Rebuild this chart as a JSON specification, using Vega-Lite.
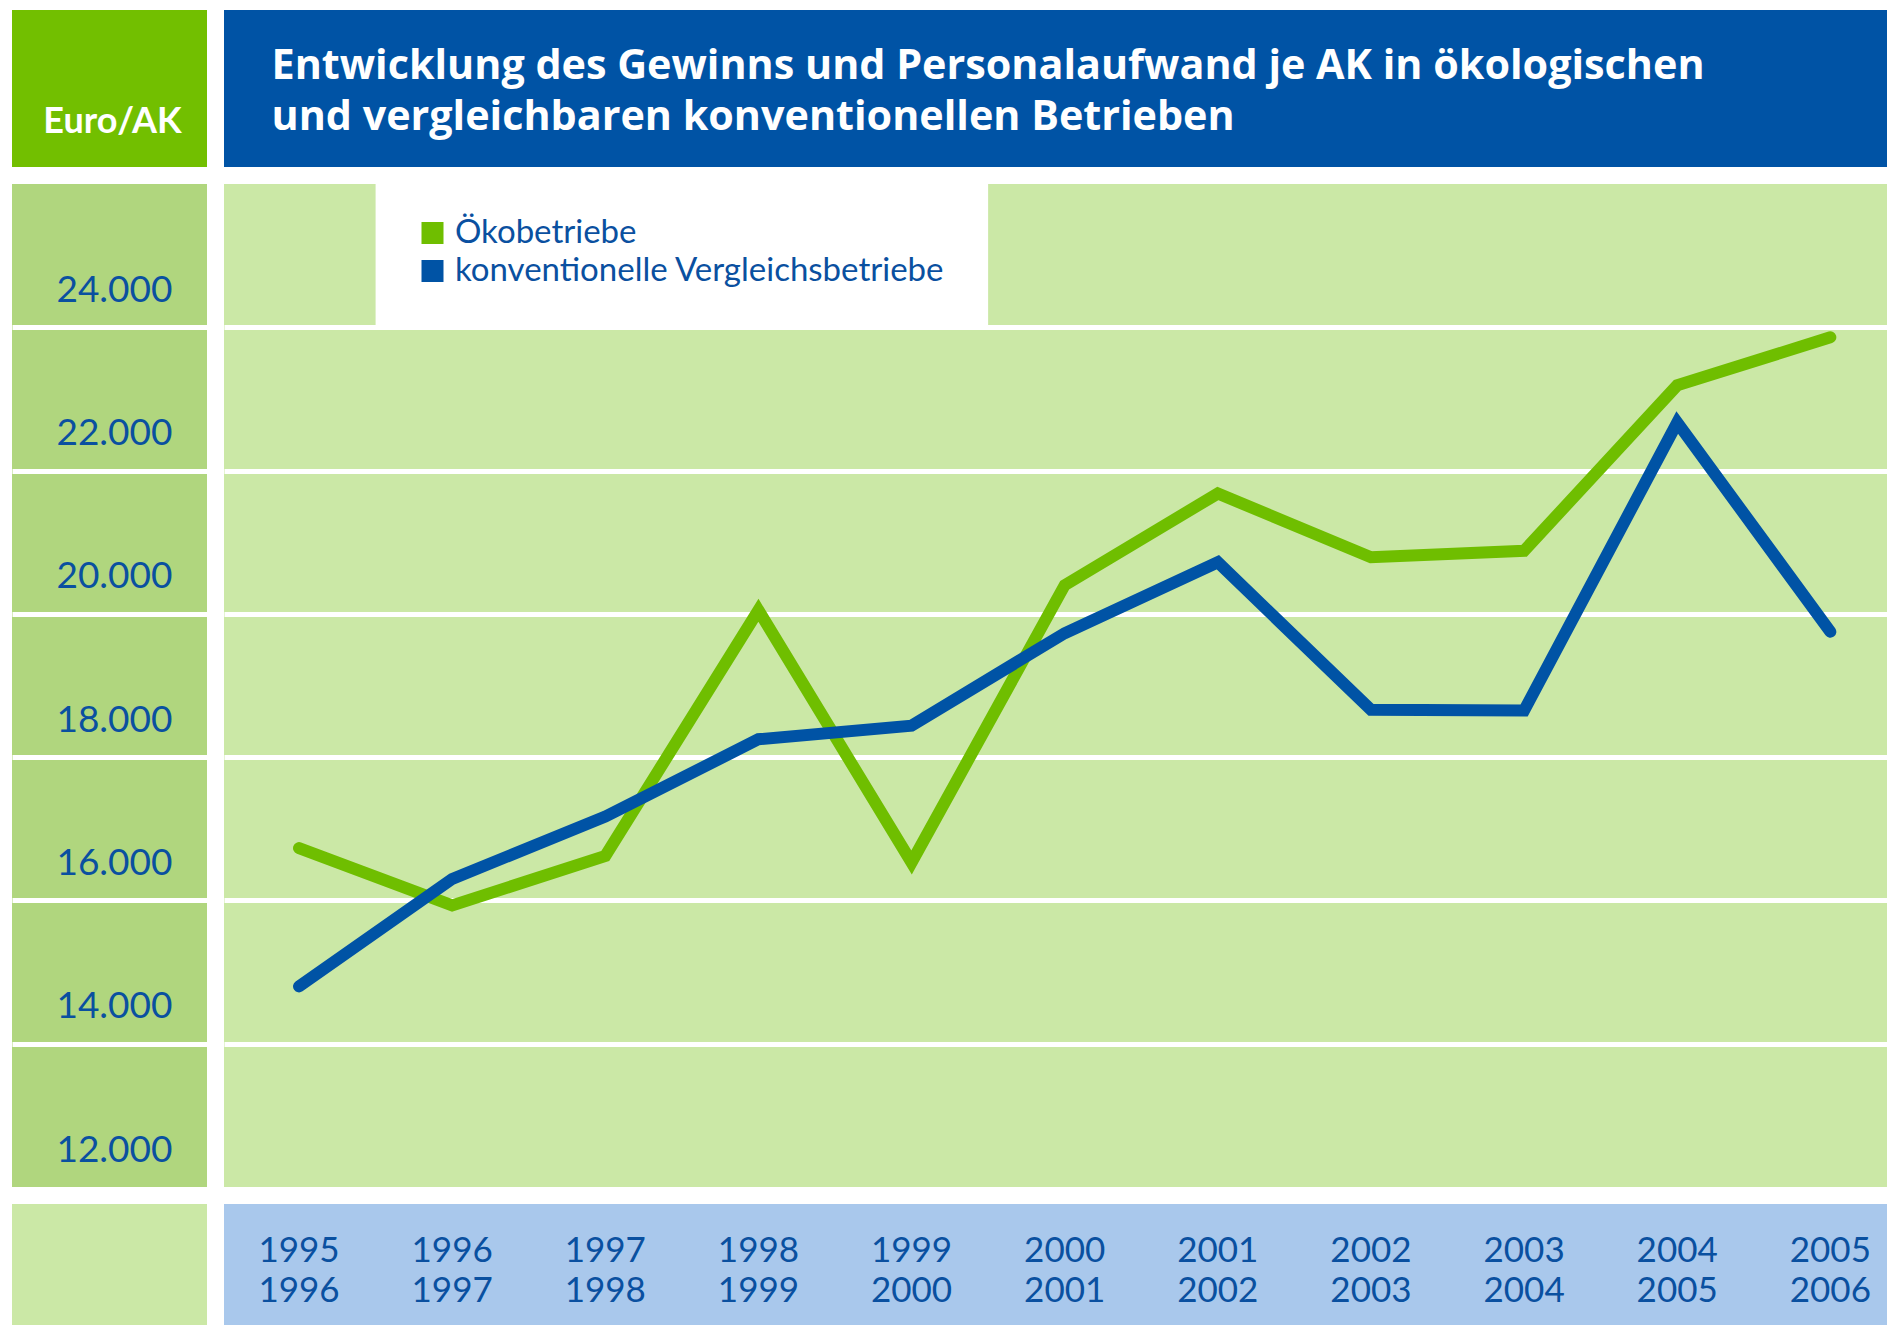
{
  "$schema": "https://vega.github.io/schema/vega-lite/v6.json",
  "padding": {"left": 12, "top": 10, "right": 0, "bottom": 0},
  "background": "white",
  "spacing": 17,
  "datasets": {
    "werte": [
      {"jahr": 1995, "gruppe": "Ökobetriebe", "wert": 16730},
      {"jahr": 1996, "gruppe": "Ökobetriebe", "wert": 15930},
      {"jahr": 1997, "gruppe": "Ökobetriebe", "wert": 16620},
      {"jahr": 1998, "gruppe": "Ökobetriebe", "wert": 20050},
      {"jahr": 1999, "gruppe": "Ökobetriebe", "wert": 16530},
      {"jahr": 2000, "gruppe": "Ökobetriebe", "wert": 20400},
      {"jahr": 2001, "gruppe": "Ökobetriebe", "wert": 21680},
      {"jahr": 2002, "gruppe": "Ökobetriebe", "wert": 20790},
      {"jahr": 2003, "gruppe": "Ökobetriebe", "wert": 20880},
      {"jahr": 2004, "gruppe": "Ökobetriebe", "wert": 23190},
      {"jahr": 2005, "gruppe": "Ökobetriebe", "wert": 23860},
      {"jahr": 1995, "gruppe": "konventionelle Vergleichsbetriebe", "wert": 14800},
      {"jahr": 1996, "gruppe": "konventionelle Vergleichsbetriebe", "wert": 16300},
      {"jahr": 1997, "gruppe": "konventionelle Vergleichsbetriebe", "wert": 17170},
      {"jahr": 1998, "gruppe": "konventionelle Vergleichsbetriebe", "wert": 18250},
      {"jahr": 1999, "gruppe": "konventionelle Vergleichsbetriebe", "wert": 18440},
      {"jahr": 2000, "gruppe": "konventionelle Vergleichsbetriebe", "wert": 19730},
      {"jahr": 2001, "gruppe": "konventionelle Vergleichsbetriebe", "wert": 20720},
      {"jahr": 2002, "gruppe": "konventionelle Vergleichsbetriebe", "wert": 18660},
      {"jahr": 2003, "gruppe": "konventionelle Vergleichsbetriebe", "wert": 18650},
      {"jahr": 2004, "gruppe": "konventionelle Vergleichsbetriebe", "wert": 22670},
      {"jahr": 2005, "gruppe": "konventionelle Vergleichsbetriebe", "wert": 19750}
    ],
    "perioden": [
      {"jahr": 1995, "periode": "1995/1996"},
      {"jahr": 1996, "periode": "1996/1997"},
      {"jahr": 1997, "periode": "1997/1998"},
      {"jahr": 1998, "periode": "1998/1999"},
      {"jahr": 1999, "periode": "1999/2000"},
      {"jahr": 2000, "periode": "2000/2001"},
      {"jahr": 2001, "periode": "2001/2002"},
      {"jahr": 2002, "periode": "2002/2003"},
      {"jahr": 2003, "periode": "2003/2004"},
      {"jahr": 2004, "periode": "2004/2005"},
      {"jahr": 2005, "periode": "2005/2006"}
    ],
    "eins": [{"titel": "Entwicklung des Gewinns und Personalaufwand je AK in ökologischen|und vergleichbaren konventionellen Betrieben", "einheit": "Euro/AK"}]
  },
  "config": {
    "font": "Lato",
    "view": {"stroke": null},
    "axis": {"labelFont": "Lato", "titleFont": "Lato"},
    "legend": {"labelFont": "Lato"}
  },
  "vconcat": [
    {
      "spacing": 17,
      "bounds": "flush",
      "hconcat": [
        {
          "width": 195,
          "height": 157,
          "view": {"fill": "#72bf00", "stroke": null},
          "data": {"name": "eins"},
          "mark": {"type": "text", "font": "Lato", "fontWeight": "bold", "fontSize": 36, "color": "white", "align": "center", "baseline": "alphabetic", "dx": 3, "dy": 44},
          "encoding": {"text": {"field": "einheit"}}
        },
        {
          "width": 1663,
          "height": 157,
          "view": {"fill": "#0053a5", "stroke": null},
          "data": {"name": "eins"},
          "mark": {"type": "text", "font": "Open Sans", "fontWeight": "bold", "fontSize": 41.3, "color": "white", "align": "left", "baseline": "alphabetic", "lineBreak": "|", "lineHeight": 51, "dx": -784, "dy": -10},
          "encoding": {"text": {"field": "titel"}}
        }
      ]
    },
    {
      "spacing": 17,
      "bounds": "flush",
      "resolve": {"scale": {"color": "independent"}},
      "hconcat": [
        {
          "width": 195,
          "height": 1003,
          "view": {"fill": "#b0d67e", "stroke": null},
          "data": {"name": "werte"},
          "mark": {"type": "point", "opacity": 0},
          "encoding": {
            "y": {
              "field": "wert",
              "type": "quantitative",
              "scale": {"domain": [12000, 26000], "nice": false, "zero": false},
              "axis": {
                "orient": "right",
                "title": null,
                "values": [12000, 14000, 16000, 18000, 20000, 22000, 24000],
                "labelExpr": "replace(format(datum.value, ',.0f'), ',', '.')",
                "labelAlign": "right",
                "labelBaseline": "alphabetic",
                "labelOffset": -26,
                "labelPadding": -35,
                "labelFontSize": 37,
                "labelColor": "#0a50a0",
                "labelFlush": false,
                "labelOverlap": false,
                "ticks": false,
                "tickSize": 0,
                "domain": false,
                "grid": true,
                "gridColor": "white",
                "gridWidth": {"condition": {"test": "datum.value <= 12000", "value": 0}, "value": 5},
                "gridOpacity": 1
              }
            }
          }
        },
        {
          "width": 1663,
          "height": 1003,
          "view": {"fill": "#cbe8a6", "stroke": null},
          "layer": [
            {
              "data": {"name": "eins"},
              "mark": {"type": "rect", "color": "white"},
              "encoding": {
                "x": {"datum": 1995.5, "type": "quantitative", "scale": {"domain": [1994.51, 2005.37], "nice": false, "zero": false}, "axis": null},
                "x2": {"datum": 1999.5},
                "y": {"datum": 24000, "type": "quantitative", "scale": {"domain": [12000, 26000], "nice": false, "zero": false}},
                "y2": {"datum": 26000}
              }
            },
            {
              "data": {"name": "werte"},
              "mark": {"type": "line", "strokeWidth": 12, "strokeCap": "round", "strokeJoin": "miter"},
              "encoding": {
                "x": {"field": "jahr", "type": "quantitative", "axis": null},
                "y": {
                  "field": "wert",
                  "type": "quantitative",
                  "axis": {
                    "title": null,
                    "values": [14000, 16000, 18000, 20000, 22000, 24000],
                    "labels": false,
                    "ticks": false,
                    "domain": false,
                    "grid": true,
                    "gridColor": "white",
                    "gridWidth": 5,
                    "gridOpacity": 1
                  }
                },
                "color": {
                  "field": "gruppe",
                  "type": "nominal",
                  "scale": {"domain": ["Ökobetriebe", "konventionelle Vergleichsbetriebe"], "range": ["#6fbe00", "#0053a5"]},
                  "legend": {
                    "title": null,
                    "orient": "none",
                    "legendX": 192,
                    "legendY": 31,
                    "symbolType": "square",
                    "symbolSize": 121,
                    "symbolStrokeWidth": 11,
                    "symbolOpacity": 1,
                    "labelFontSize": 33,
                    "labelColor": "#0a50a0",
                    "labelOffset": 6,
                    "labelLimit": 700,
                    "clipHeight": 36,
                    "rowPadding": 2,
                    "padding": 0
                  }
                }
              }
            }
          ]
        }
      ]
    },
    {
      "spacing": 17,
      "bounds": "flush",
      "hconcat": [
        {
          "width": 195,
          "height": 121,
          "view": {"fill": "#cbe8a6", "stroke": null},
          "data": {"name": "eins"},
          "mark": {"type": "text", "opacity": 0},
          "encoding": {"text": {"value": ""}}
        },
        {
          "width": 1663,
          "height": 121,
          "view": {"fill": "#a9c8ec", "stroke": null},
          "data": {"name": "perioden"},
          "mark": {"type": "text", "font": "Lato", "fontSize": 35, "color": "#0a50a0", "align": "center", "baseline": "middle", "lineBreak": "/", "lineHeight": 40, "dy": -14},
          "encoding": {
            "x": {"field": "jahr", "type": "quantitative", "scale": {"domain": [1994.51, 2005.37], "nice": false, "zero": false}, "axis": null},
            "text": {"field": "periode"}
          }
        }
      ]
    }
  ]
}
